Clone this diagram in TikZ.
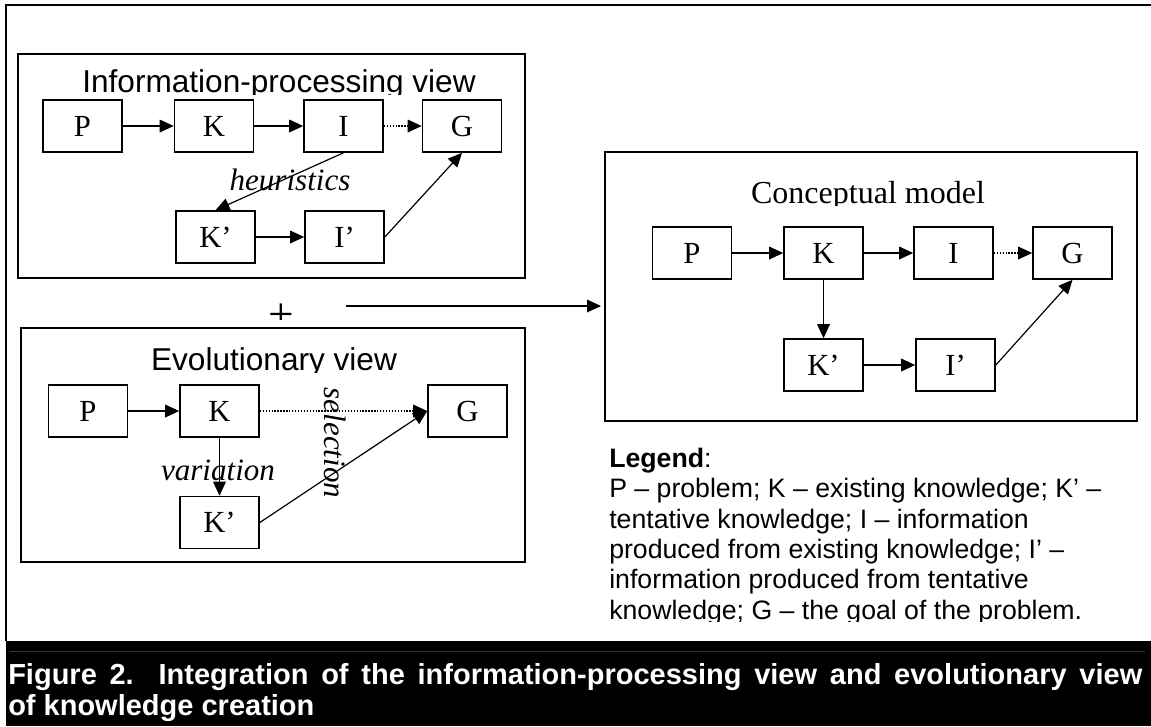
\documentclass[tikz,border=0pt]{standalone}
\usepackage{fontspec}
\setmainfont{Liberation Serif}
\newfontfamily\arialf{Liberation Sans}
\usetikzlibrary{arrows.meta}
\begin{document}
\begin{tikzpicture}[x=0.75pt,y=-0.75pt,
  lbox/.style={draw, line width=1.2pt, minimum width=59.25pt, minimum height=39pt, inner sep=0pt, font=\fontsize{23}{27}\selectfont},
  frame/.style={draw, line width=1.6pt},
  conn/.style={line width=0.9pt, -{Triangle[length=10.5pt,width=9.5pt]}},
  dconn/.style={conn, dash pattern=on 1pt off 1.2pt},
  viewtitle/.style={font=\arialf\fontsize{23.7}{28}\selectfont, inner sep=0pt, anchor=base},
  serftitle/.style={font=\fontsize{24}{28}\selectfont, inner sep=0pt, anchor=base},
  edgelabel/.style={font=\itshape\fontsize{23.3}{28}\selectfont, inner sep=0pt},
  legendtext/.style={font=\arialf\fontsize{20}{24}\selectfont, inner sep=0pt, anchor=base west},
  captext/.style={font=\arialf\bfseries\fontsize{21.75}{26}\selectfont, text=white, inner sep=0pt, anchor=base west},
]
\useasboundingbox (0,0) rectangle (1151,726);

% caption band and outer frame
\fill[black] (6,641) rectangle (1151,726);
\draw[gray!40!black, line width=0.75pt] (10,651) -- (1145,651);
\draw[line width=1.6pt] (1151,5) -- (6,5) -- (6,641);

% container frames
\draw[frame] (18,54) rectangle (525,278);
\draw[frame] (21,328) rectangle (525,562);
\draw[frame] (605,152) rectangle (1137,421);

% titles (clipped just below the baseline, as in the reference)
\begin{scope}
  \clip (20,60) rectangle (520,94);
  \node[viewtitle] (iptitle) at (279,92) {Information-processing view};
\end{scope}
\begin{scope}
  \clip (25,335) rectangle (520,372);
  \node[viewtitle] (evtitle) at (274,370) {Evolutionary view};
\end{scope}
\begin{scope}
  \clip (610,160) rectangle (1130,205);
  \node[serftitle] (cmtitle) at (868,203) {Conceptual model};
\end{scope}

% Information-processing view
\node[lbox] (ipP)  at (82.5,126) {P};
\node[lbox] (ipK)  at (214,126)  {K};
\node[lbox] (ipI)  at (343.5,126) {I};
\node[lbox] (ipG)  at (462,126)  {G};
\node[lbox] (ipKp) at (215.5,237) {K’};
\node[lbox] (ipIp) at (344.5,237) {I’};
\draw[conn] (ipP) -- (ipK);
\draw[conn] (ipK) -- (ipI);
\draw[dconn] (ipI) -- (ipG);
\draw[conn] (ipI.south) -- (ipKp.north);
\draw[conn] (ipKp) -- (ipIp);
\draw[conn] (ipIp.east) -- (ipG.south);
\node[edgelabel] (heur) at (290,180) {heuristics};

% plus sign (lower half hidden, as in the reference)
\begin{scope}
  \clip (250,288) rectangle (312,319);
  \node[font=\fontsize{34}{36}\selectfont, inner sep=0pt] (plus) at (281,317) {+};
\end{scope}

% big arrow
\coordinate (arrowstart) at (346,306);
\coordinate (cmentry) at (605,306);
\draw[conn, shorten >=3pt] (arrowstart) -- (cmentry);

% Evolutionary view
\node[lbox] (evP)  at (88,411)    {P};
\node[lbox] (evK)  at (219.5,411) {K};
\node[lbox] (evG)  at (467.5,411) {G};
\node[lbox] (evKp) at (219.5,522.5) {K’};
\draw[conn] (evP) -- (evK);
\draw[dconn] (evK) -- (evG);
\draw[conn] (evK) -- (evKp);
\draw[conn] (evKp.east) -- (evG.west);
\node[edgelabel] (vari) at (218,470) {variation};
\node[edgelabel, rotate=-90] (sele) at (335,443) {selection};

% Conceptual model
\node[lbox] (cmP)  at (692,253)    {P};
\node[lbox] (cmK)  at (823.5,253)  {K};
\node[lbox] (cmI)  at (953.5,253)  {I};
\node[lbox] (cmG)  at (1072.5,253) {G};
\node[lbox] (cmKp) at (823.5,365)  {K’};
\node[lbox] (cmIp) at (955.5,365)  {I’};
\draw[conn] (cmP) -- (cmK);
\draw[conn] (cmK) -- (cmI);
\draw[dconn] (cmI) -- (cmG);
\draw[conn] (cmK) -- (cmKp);
\draw[conn] (cmKp) -- (cmIp);
\draw[conn] (cmIp.east) -- (cmG.south);

% Legend
\begin{scope}
  \clip (600,440) rectangle (1145,621);
  \node[legendtext] (lg0) at (609,467)   {\textbf{Legend}:};
  \node[legendtext] (lg1) at (609,497.5) {P – problem; K – existing knowledge; K’ –};
  \node[legendtext] (lg2) at (609,528)   {tentative knowledge; I – information};
  \node[legendtext] (lg3) at (609,558)   {produced from existing knowledge; I’ –};
  \node[legendtext] (lg4) at (609,588.5) {information produced from tentative};
  \node[legendtext] (lg5) at (609,619)   {knowledge; G – the goal of the problem.};
\end{scope}

% Caption
\node[captext] (cap1) at (8,684) {\makebox[850.5pt][s]{Figure 2. Integration of the information-processing view and evolutionary view}};
\node[captext] (cap2) at (8,715) {of knowledge creation};
\end{tikzpicture}
\end{document}
